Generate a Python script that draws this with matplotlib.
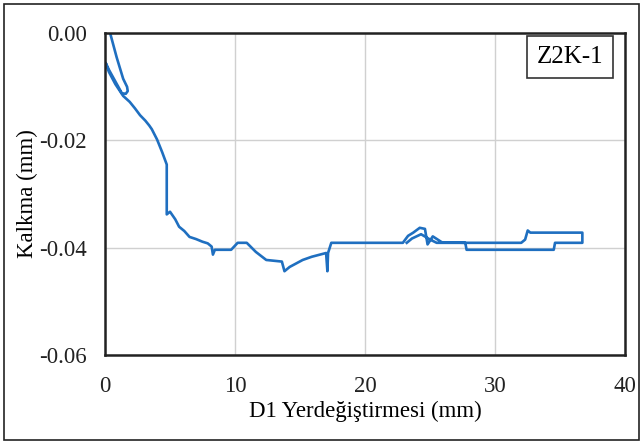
import matplotlib
matplotlib.use("Agg")
from matplotlib import pyplot as plt
from matplotlib.patches import Rectangle

plt.rcParams['font.family'] = ['Liberation Serif', 'DejaVu Serif']
plt.rcParams['axes.unicode_minus'] = False

# D1 displacement (mm) and uplift (mm)
d1 = [0.4, 0.9, 1.4, 1.7, 1.75, 1.6, 1.3, 0.8, 0.3, 0.05,
      0.3, 0.8, 1.4, 1.9, 2.3, 2.7, 3.1, 3.4, 3.6, 4.0, 4.4, 4.75, 4.75,
      5.0, 5.4, 5.7, 6.1, 6.5, 7.0, 7.5, 7.9,
      8.2, 8.3, 8.45, 9.7, 10.2, 10.9, 11.6, 12.4, 13.6, 13.8, 14.2, 15.2,
      15.9, 17.0, 17.1, 17.15, 17.4, 22.9, 23.3, 23.7, 24.2, 24.6, 24.8,
      25.2, 25.9, 27.7, 27.8, 34.5, 34.6, 36.7, 36.7, 32.7, 32.5, 32.3,
      32.0, 25.5, 25.0, 24.3, 23.6, 23.2]
uplift = [0.0, -0.0045, -0.0085, -0.0100, -0.0108, -0.0113, -0.0112, -0.0090, -0.0068, -0.0055,
          -0.0072, -0.0095, -0.0117, -0.0128, -0.0140, -0.0153, -0.0163, -0.0172, -0.0179,
          -0.0198, -0.0222, -0.0245, -0.0338,
          -0.0333, -0.0347, -0.0361, -0.0369, -0.0380, -0.0384, -0.0389, -0.0392,
          -0.0398, -0.0413, -0.0404, -0.0404, -0.0391,
          -0.0391, -0.0408, -0.0423, -0.0426, -0.0444, -0.0436, -0.0423, -0.0417, -0.0410,
          -0.0444, -0.0410, -0.0391, -0.0391, -0.0378, -0.0372, -0.0363, -0.0365, -0.0394,
          -0.0379, -0.0390, -0.0391, -0.0404, -0.0404, -0.0391, -0.0391, -0.0372, -0.0372,
          -0.0368, -0.0385, -0.0391, -0.0391, -0.0385, -0.0375, -0.0383, -0.0391]

xticks = [0, 10, 20, 30, 40]
yticks = [0.00, -0.02, -0.04, -0.06]

fig = plt.figure(figsize=(6.4, 4.43), dpi=100)
ax = fig.add_axes([0.164, 0.199, 0.813, 0.726])

ax.plot(d1, uplift, color='#1f6fc0', lw=1.9, solid_joinstyle='round')

ax.set_xlim(0, 40)
ax.set_ylim(-0.06, 0.0)
ax.set_xticks(xticks)
ax.set_yticks(yticks)
ax.set_yticklabels([f"{v:.2f}" for v in yticks])
ax.tick_params(length=0, labelsize=16.5, colors='#222222')
ax.tick_params(axis='y', pad=13)
ax.tick_params(axis='x', pad=15)
ax.grid(True, color='#d0d0d0', lw=1.0)
ax.set_axisbelow(True)
for s in ax.spines.values():
    s.set_linewidth(1.8)
    s.set_color('#222222')

ax.set_xlabel("D1 Yerdeğiştirmesi (mm)", fontsize=16.5, labelpad=3)
ax.set_ylabel("Kalkma (mm)", fontsize=16.5, labelpad=1)

ax.text(0.894, 0.925, "Z2K-1", transform=ax.transAxes, fontsize=18,
        ha='center', va='center',
        bbox=dict(boxstyle='square,pad=0.4', fc='white', ec='#333333', lw=1.2))

fig.patches.append(Rectangle((0.007, 0.007), 0.992, 0.984, transform=fig.transFigure,
                             fill=False, ec='#222222', lw=1.2))

fig.savefig("out.png", dpi=100)
